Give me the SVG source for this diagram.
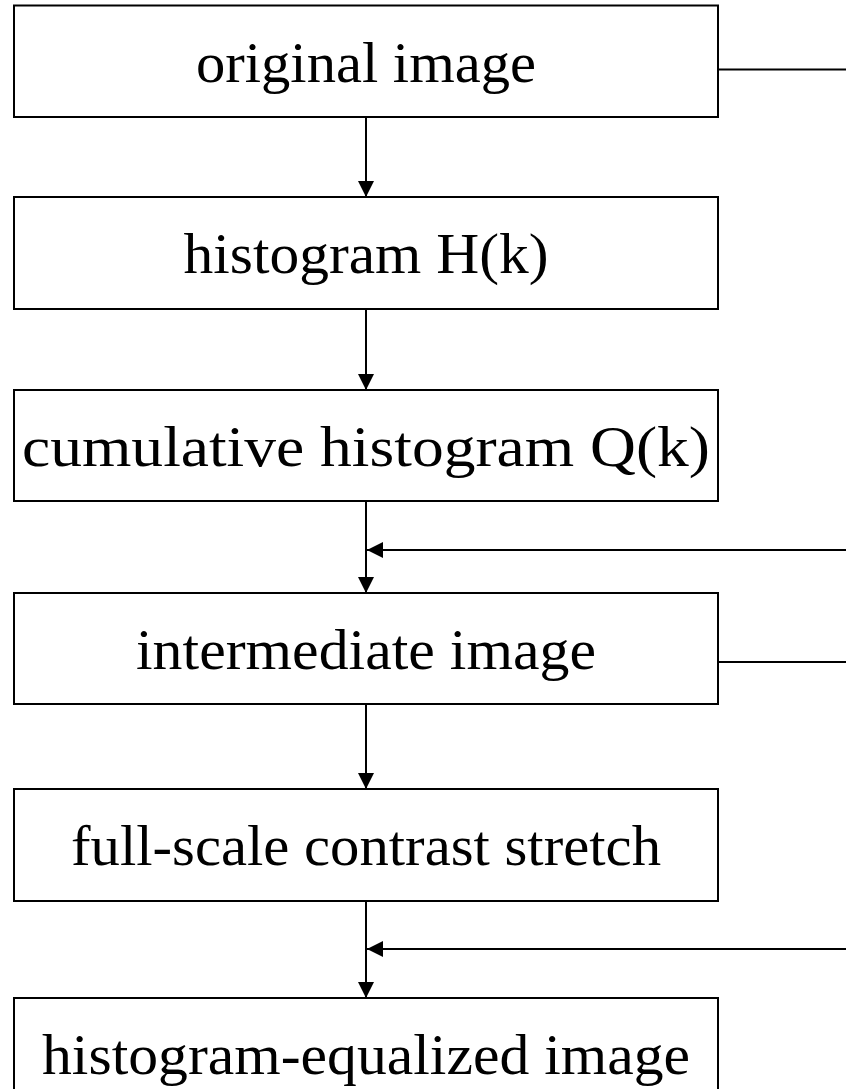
<svg xmlns="http://www.w3.org/2000/svg" width="846" height="1089" viewBox="0 0 846 1089">
<style>
.box{fill:#fff;stroke:#000;stroke-width:2}
.lbl{font-family:"Liberation Serif","Times New Roman",serif;font-size:57px;fill:#000;text-anchor:middle}
.ln{stroke:#000;stroke-width:2;fill:none}
</style>
<defs>
<marker id="ah" viewBox="0 0 10 10" refX="10" refY="5" markerWidth="19" markerHeight="16" markerUnits="userSpaceOnUse" orient="auto">
<path d="M0,0 L10,5 L0,10 Z" fill="#000"/>
</marker>
</defs>
<rect width="846" height="1089" fill="#fff"/>
<g id="connectors">
<line class="ln" x1="366" y1="117" x2="366" y2="197" marker-end="url(#ah)"/>
<line class="ln" x1="366" y1="309" x2="366" y2="390" marker-end="url(#ah)"/>
<line class="ln" x1="366" y1="501" x2="366" y2="593" marker-end="url(#ah)"/>
<line class="ln" x1="366" y1="704" x2="366" y2="789" marker-end="url(#ah)"/>
<line class="ln" x1="366" y1="901" x2="366" y2="998" marker-end="url(#ah)"/>
<line class="ln" x1="846" y1="550" x2="367" y2="550" marker-end="url(#ah)"/>
<line class="ln" x1="846" y1="949" x2="367" y2="949" marker-end="url(#ah)"/>
<line class="ln" x1="718" y1="69.5" x2="846" y2="69.5"/>
<line class="ln" x1="718" y1="662" x2="846" y2="662"/>
</g>
<g id="n1"><rect class="box" x="14" y="5.5" width="704" height="111.5"/><text class="lbl" x="366" y="82" textLength="340" lengthAdjust="spacingAndGlyphs">original image</text></g>
<g id="n2"><rect class="box" x="14" y="197" width="704" height="112"/><text class="lbl" x="366" y="273" textLength="365" lengthAdjust="spacingAndGlyphs">histogram H(k)</text></g>
<g id="n3"><rect class="box" x="14" y="390" width="704" height="111"/><text class="lbl" x="366" y="466" textLength="688" lengthAdjust="spacingAndGlyphs">cumulative histogram Q(k)</text></g>
<g id="n4"><rect class="box" x="14" y="593" width="704" height="111"/><text class="lbl" x="366" y="669" textLength="460" lengthAdjust="spacingAndGlyphs">intermediate image</text></g>
<g id="n5"><rect class="box" x="14" y="789" width="704" height="112"/><text class="lbl" x="366" y="865" textLength="590" lengthAdjust="spacingAndGlyphs">full-scale contrast stretch</text></g>
<g id="n6"><rect class="box" x="14" y="998" width="704" height="112"/><text class="lbl" x="366" y="1074" textLength="648" lengthAdjust="spacingAndGlyphs">histogram-equalized image</text></g>
</svg>
